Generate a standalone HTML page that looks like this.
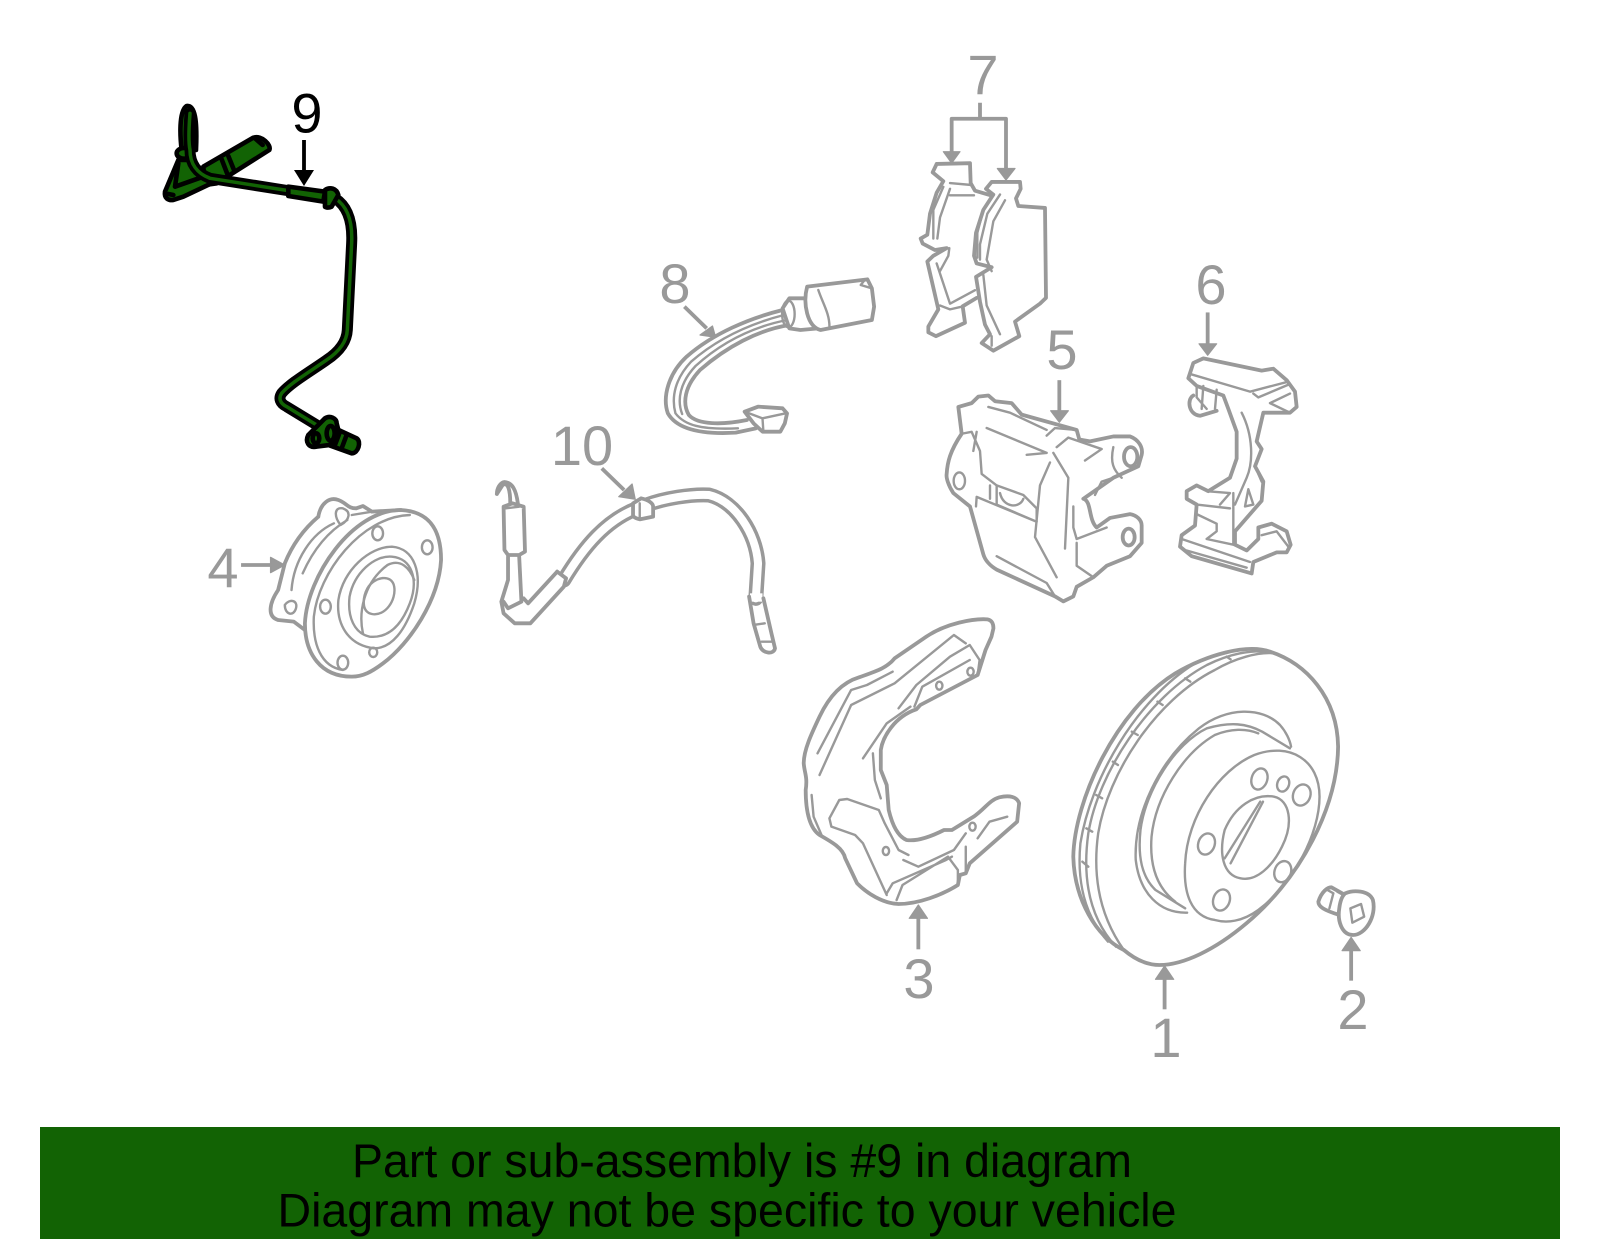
<!DOCTYPE html>
<html><head><meta charset="utf-8"><title>Diagram</title>
<style>
html,body{margin:0;padding:0;background:#fff;width:1600px;height:1249px;overflow:hidden}
svg{display:block}
text{font-family:"Liberation Sans",Arial,sans-serif}
.n{font-size:56px;fill:#999;text-anchor:middle}
.g path,.g ellipse{fill:none;stroke:#999;stroke-width:3.8;vector-effect:non-scaling-stroke;stroke-linejoin:round;stroke-linecap:round}
.g .t{stroke-width:2.4}
.g .a{fill:#999;stroke:#999;stroke-width:1.2}
.g .s{stroke-linecap:butt;stroke-width:3.8}
.g .f{fill:#fff}
.k path,.k ellipse{stroke:#000;stroke-width:4.6;fill:#126304;vector-effect:non-scaling-stroke;stroke-linejoin:round;stroke-linecap:round}
.k .w{fill:none}
</style></head><body>
<svg width="1600" height="1249" viewBox="0 0 1600 1249" xmlns="http://www.w3.org/2000/svg">

<!-- Part 9 -->
<g class="k" transform="translate(140,70) scale(.3333)">
<path d="M190,290L340,203C365,195 395,225 388,240L285,305L230,340L195,345Z"/>
<path d="M115,270L75,365C72,385 85,392 100,390L130,380L225,335L180,310L150,270Z"/>
<path class="w" d="M105,350L190,320M100,375L85,372M115,280L105,350M245,268L262,312M265,258L282,300M345,205L368,225"/>
<path d="M125,240C118,180 120,120 140,108C165,105 172,150 168,240Z"/>
<ellipse cx="132" cy="250" rx="22" ry="16"/>
<path class="w" style="stroke-width:11" d="M150,130C146,180 146,220 150,240C150,280 170,310 210,325L445,362"/>
<path class="w" style="stroke:#126304;stroke-width:3.5" d="M150,130C146,180 146,220 150,240C150,280 170,310 210,325L445,362"/>
<path d="M445,350L555,365L550,395L445,378Z"/>
<path class="w" style="stroke-width:11" d="M585,385C625,410 638,460 635,520L622,780C620,820 590,850 560,870C510,905 450,940 425,970C415,985 420,1000 440,1010L530,1065"/>
<path class="w" style="stroke:#126304;stroke-width:3.5" d="M585,385C625,410 638,460 635,520L622,780C620,820 590,850 560,870C510,905 450,940 425,970C415,985 420,1000 440,1010L530,1065"/>
<path d="M555,360C570,350 590,355 595,375L575,410C565,415 555,412 555,410Z"/>
<path d="M585,1075L650,1105C665,1115 655,1150 635,1150L565,1125Z"/>
<path class="w" d="M600,1085L585,1125M620,1095L605,1135"/>
<path d="M505,1095L555,1045C570,1035 590,1045 590,1060L595,1080L570,1125L530,1130C505,1135 495,1115 505,1095Z"/>
<ellipse cx="528" cy="1105" rx="10" ry="15"/>
<ellipse cx="572" cy="1090" rx="12" ry="22"/>
</g>
<text x="307" y="132.5" font-size="56" text-anchor="middle" fill="#000">9</text>
<path d="M304,140V175" stroke="#000" stroke-width="3.8" fill="none"/>
<path d="M294,170H314L304,186Z" fill="#000"/>

<!-- Part 7, 5, 6 -->
<g class="g" transform="translate(900,30) scale(.33333,.3827)">
<path class="s" d="M240,190V232M155,320V232H318V365"/>
<path class="a" d="M130,318H180L155,348ZM292,362H345L318,392Z"/>
<path d="M110,350L210,348L212,400L225,420L272,432M110,350L98,372L130,395L110,425L90,480L82,535L62,545L68,558L105,575L140,570L100,590L82,605L115,730L85,775L85,790L108,800L195,765L188,722L230,700"/>
<path class="t" d="M130,410L100,470L100,545M150,415L120,490L112,545M150,400L215,405M120,720L150,730L190,722M110,610L150,715L225,680M120,630L145,590L148,570M150,432L222,432"/>
<path class="f" d="M258,415L275,397L360,397L362,415L348,440L355,460L435,465L438,700L420,715L345,762L358,800L280,838L245,818L270,795L255,770L240,710L228,645L275,620L230,610L222,590L228,530L250,470L280,430Z"/>
<path class="t" d="M300,430L262,480L240,560L240,600M315,445L280,500L260,600L275,630M250,640L260,720L300,795M275,800L275,825M250,470L232,530L232,595"/>
<path class="s" d="M478,915V995"/><path class="a" d="M452,995H505L478,1025Z"/>
<path d="M175,985L215,975L235,958L265,955L285,970L335,975L365,1005L530,1045L538,1070L570,1075L640,1062L690,1062C715,1070 730,1090 725,1110L715,1140L640,1170L550,1225C575,1230 565,1280 590,1300L630,1275L690,1265C710,1268 725,1280 725,1295V1340L690,1375L620,1400L580,1430L530,1455L520,1480L490,1493L465,1480L290,1410C270,1400 255,1385 250,1370L210,1245L160,1210C145,1190 138,1170 140,1160C142,1130 150,1100 185,1055Z"/>
<ellipse class="t" cx="178" cy="1178" rx="17" ry="22"/>
<ellipse cx="692" cy="1115" rx="20" ry="25"/>
<ellipse cx="686" cy="1325" rx="18" ry="22"/>
<path class="t" d="M185,1055L215,1050L240,1100L245,1160L290,1190L370,1215L410,1250L410,1285L230,1220L228,1245M260,1040L440,1105L380,1110L440,1105M265,985L330,1000L440,1045M440,1060L465,1040L530,1045M470,1090L505,1065L605,1095L555,1125M460,1105L505,1170L495,1355M450,1130L420,1190L405,1325L470,1430M290,1190L290,1240L410,1285M300,1210C310,1250 360,1250 370,1225M585,1215L605,1180L640,1170M520,1245L520,1300L530,1330L620,1300M530,1340L530,1400L580,1430M290,1375L440,1445L465,1480M640,1090C630,1130 640,1150 665,1170M230,1050L220,1100M270,1190V1225"/>

<path class="s" d="M923,738V820"/><path class="a" d="M897,820H950L923,850Z"/>
<path d="M880,870L910,858L1085,890L1120,885L1160,915L1185,945L1190,985L1170,1000L1090,1000L1070,1075L1085,1095L1065,1140L1090,1180L1085,1230L1005,1310V1345L1040,1360L1075,1330L1075,1300L1115,1290L1160,1310L1172,1345L1160,1365L1130,1365L1060,1390L1055,1420L875,1375L840,1350L845,1320L885,1295L890,1240L860,1225L860,1205L890,1190L925,1205L990,1170L1010,1120L1010,1050L985,990L970,955L890,930L865,910Z"/>
<path d="M880,955C860,965 865,1005 900,1008L950,995"/>
<path class="t" d="M875,900L1050,945L1160,920M890,930L890,960L920,990M910,930L905,990M950,940L945,990M1060,950L1075,960L1170,925M1110,975L1170,950M1170,1000L1110,975M1025,1000C1060,1060 1060,1130 1040,1170L1005,1240M920,1205L990,1210L960,1240M890,1240L990,1250M890,1265L950,1290V1310L920,1330L1000,1345V1210M845,1330L1050,1390M860,1360L1040,1405M1075,1160L1085,1180M1045,1200L1060,1240L1035,1245ZM1085,1320L1130,1310L1165,1350"/>
</g>
<text class="n" x="983" y="94">7</text>
<text class="n" x="1062" y="369">5</text>
<text class="n" x="1211" y="304">6</text>

<!-- Part 3, 1, 2 -->
<g class="g" transform="translate(780,600) scale(.39526,.33333)">
<path class="s" d="M350,1048V955"/><path class="a" d="M327,955H373L350,915Z"/>
<path class="s" d="M973,1228V1138"/><path class="a" d="M950,1138H996L973,1098Z"/>
<path class="s" d="M1445,1142V1052"/><path class="a" d="M1422,1052H1468L1445,1012Z"/>

<path d="M525,58C490,55 420,70 370,110L290,175C270,205 240,215 200,232C150,250 120,300 100,350C80,400 60,450 60,490C62,520 70,530 65,570C65,620 70,680 100,705C130,725 160,745 165,775L195,850C220,880 260,910 300,912C350,912 410,885 450,855L455,825L470,820L480,790L600,665L605,610C600,590 580,585 555,592C530,600 520,625 490,650L435,690L415,690C390,705 350,725 320,720C300,710 285,680 275,630L270,555L255,510L255,450C260,410 290,350 345,328L355,315L500,225L520,150L535,110L540,85C540,70 535,60 525,58Z"/>
<path class="t" d="M95,460L180,270L220,255L285,215M100,525L180,315L290,250L440,105L470,130M300,325L345,255L430,170L480,135L505,180L500,225M340,320L360,260L480,180M210,475L270,370L330,320M235,460L240,540L255,595M80,585L85,650L105,705M150,600L125,655L130,680L190,705L210,730L270,885M150,600L170,597L250,630L265,670L300,750L325,765M295,900L310,855L425,770L450,810L450,855M270,880L285,850L420,780L435,770M312,780L350,800L440,750L470,700M470,740V820M500,715L530,665L575,650"/>
<ellipse class="t" cx="403" cy="257" rx="8" ry="12"/><ellipse class="t" cx="482" cy="215" rx="8" ry="12"/><ellipse class="t" cx="268" cy="753" rx="8" ry="12"/><ellipse class="t" cx="487" cy="680" rx="8" ry="12"/>

<path d="M870,1050C800,1010 745,900 742,770C745,600 850,330 1000,220C1080,165 1180,130 1240,155C1330,190 1410,290 1412,440C1410,620 1320,830 1180,970C1100,1050 1020,1095 960,1095C925,1095 895,1075 870,1050Z"/>
<path class="t" d="M870,1050C810,950 790,830 805,700C830,520 950,300 1100,210C1150,175 1210,155 1250,160"/>
<path class="t" d="M850,1040C780,950 765,830 780,700C805,520 930,290 1080,195C1140,160 1190,150 1240,155"/>
<path class="t" d="M830,1025C765,940 752,830 760,730C785,540 900,300 1050,190C1110,155 1170,140 1230,150"/>
<path class="t" d="M765,785L780,800M775,685L790,695M800,585L815,595M842,485L855,495M890,395L905,405M955,305L968,315M1025,235L1038,245M1130,170L1140,178"/>
<path class="t" d="M1100,960C1040,950 1020,880 1025,790C1030,650 1110,510 1200,465C1290,425 1365,480 1365,590C1365,700 1300,850 1210,930C1170,965 1130,970 1100,960Z"/>
<path class="t" d="M1030,938C960,940 910,880 900,780C895,640 960,480 1060,385C1130,320 1220,320 1265,375C1280,395 1290,420 1293,440"/>
<path class="t" d="M1025,925L950,870C915,830 905,770 912,690C925,570 1000,430 1080,385C1140,365 1180,370 1220,395L1290,445"/>
<path class="t" d="M1000,905C950,860 935,790 940,710C950,590 1020,460 1100,405C1140,385 1180,385 1210,400"/>
<path class="t" d="M1165,835C1120,825 1110,760 1125,690C1150,620 1200,580 1250,590C1290,600 1300,670 1270,740C1245,800 1205,845 1165,835Z"/>
<path class="t" d="M1215,605L1125,775M1222,605L1140,790"/>
<ellipse class="t" cx="1213" cy="537" rx="20" ry="32" transform="rotate(12 1213 537)"/>
<ellipse class="t" cx="1273" cy="552" rx="15" ry="23" transform="rotate(12 1273 552)"/>
<ellipse class="t" cx="1320" cy="585" rx="22" ry="32" transform="rotate(12 1320 585)"/>
<ellipse class="t" cx="1079" cy="732" rx="21" ry="32" transform="rotate(12 1079 732)"/>
<ellipse class="t" cx="1272" cy="815" rx="21" ry="32" transform="rotate(12 1272 815)"/>
<ellipse class="t" cx="1117" cy="900" rx="21" ry="32" transform="rotate(12 1117 900)"/>

<path d="M1430,885L1395,862C1385,862 1370,875 1362,905C1362,920 1375,930 1415,945"/>
<path class="t" d="M1385,870L1400,880L1390,925M1410,875L1425,885"/>
<path class="f" d="M1430,880C1450,870 1490,870 1500,900C1510,950 1480,1005 1450,1005C1420,1005 1410,960 1415,925C1417,905 1422,888 1430,880Z"/>
<path class="t" d="M1443,925L1470,912L1478,950L1448,968Z"/>
</g>
<text class="n" x="919" y="998">3</text>
<text class="n" x="1166" y="1057">1</text>
<text class="n" x="1353" y="1029">2</text>

<!-- Part 4, 10, 8 -->
<g class="g" transform="translate(200,240) scale(.44643,.33333)">
<path class="s" d="M92,975H160"/><path class="a" d="M158,952V998L190,975Z"/>
<path d="M265,830C270,790 290,770 310,780C330,790 330,805 350,805L365,798L385,815L450,810M265,830C230,870 205,920 190,970L175,1050C155,1090 150,1130 175,1140L210,1145L235,1170"/>
<path class="t" d="M205,1050C210,960 250,880 300,850M230,1000C250,940 280,880 330,840M315,855C300,830 300,800 320,805C340,815 335,840 315,855M190,1095C200,1075 220,1080 215,1105C210,1130 190,1125 190,1095M340,825L385,815"/>
<path d="M340,1310C270,1310 235,1240 235,1150C240,1010 340,810 450,810C520,815 540,880 540,960C535,1080 470,1210 410,1270C385,1295 365,1310 340,1310Z"/>
<path class="t" d="M320,1290C270,1280 252,1210 255,1130C265,1000 360,830 470,825"/>
<path class="t" d="M390,1225C330,1215 305,1150 310,1080C320,990 380,920 430,920C480,925 500,1000 480,1090C460,1170 430,1225 390,1225Z"/>
<path class="t" d="M380,1190C345,1180 330,1130 335,1070C345,1000 390,945 430,950C475,955 490,1020 470,1090C450,1160 420,1195 380,1190Z"/>
<path class="t" d="M365,1180C355,1120 365,1030 420,975C450,955 470,985 480,1020"/>
<path class="t" d="M385,1122C360,1115 365,1070 375,1045C390,1010 430,1000 435,1040C440,1080 415,1130 385,1122Z"/>
<ellipse class="t" cx="398" cy="880" rx="12" ry="21"/><ellipse class="t" cx="509" cy="922" rx="12" ry="21"/><ellipse class="t" cx="281" cy="1100" rx="12" ry="21"/><ellipse class="t" cx="320" cy="1268" rx="12" ry="21"/><ellipse class="t" cx="388" cy="1237" rx="9" ry="14"/>

<path class="s" d="M900,685L950,750"/><path class="a" d="M975,778L938,770L968,732Z"/>
<path style="stroke-width:15" d="M815,1020C860,920 910,840 980,805L1000,795C1040,775 1100,762 1140,765C1200,785 1245,880 1250,970L1245,1075"/>
<path style="stroke:#fff;stroke-width:8" d="M815,1020C860,920 910,840 980,805L1000,795C1040,775 1100,762 1140,765C1200,785 1245,880 1250,970L1245,1075"/>
<path class="f" style="stroke:#fff;stroke-width:0" d="M1232,1060H1260V1085H1232Z"/>
<path d="M1230,1070L1240,1150L1255,1220C1260,1240 1285,1245 1288,1225L1280,1180L1262,1075"/>
<path class="t" d="M1240,1155L1265,1150M1258,1205L1282,1205"/>
<path class="f" d="M970,790L988,775C1005,780 1015,790 1015,800V830L985,838C975,835 970,830 970,825Z"/>
<path class="t" d="M985,790V835"/>
<path class="f" d="M800,995L820,1015L815,1040L740,1150L705,1150L680,1120L675,1085L690,1020V950"/>
<path d="M800,995L735,1090L725,1075M715,950L720,1085L690,1105L680,1085"/>
<path class="f" d="M680,800L700,790L725,800L728,935L715,945H690L682,930Z"/>
<path d="M695,790C695,750 690,725 678,735L665,762M712,790C708,750 700,728 682,726C672,728 665,745 665,762"/>
<path class="t" d="M685,805L715,800"/>

<path class="s" d="M1085,200L1135,265"/><path class="a" d="M1155,292L1120,285L1148,258Z"/>
<path d="M1305,210C1230,235 1150,280 1090,350C1050,400 1035,470 1048,520C1065,560 1110,585 1200,578L1245,565"/>
<path d="M1320,255C1250,270 1180,320 1120,390C1085,440 1080,490 1095,525C1115,555 1170,555 1225,540"/>
<path class="t" d="M1308,225C1235,250 1160,295 1100,365C1065,415 1055,470 1065,520C1085,555 1120,570 1205,565M1315,240C1240,260 1170,305 1110,378C1075,428 1068,480 1080,522"/>
<path class="f" d="M1220,515L1250,500L1305,505L1315,520L1310,550L1300,575L1260,575L1240,550Z"/>
<path class="t" d="M1220,515L1260,535L1262,575M1260,535L1312,520"/>
<path class="f" d="M1360,175L1320,175L1305,205L1320,265L1345,270L1385,265"/>
<ellipse class="t" cx="1318" cy="222" rx="14" ry="40"/>
<path class="f" d="M1360,140L1495,118L1505,145L1510,200L1505,240L1390,270C1360,260 1350,190 1360,140Z"/>
<path class="t" d="M1385,150C1395,190 1410,220 1410,260M1490,118L1480,135L1505,145"/>
</g>
<text class="n" x="223" y="587">4</text>
<text class="n" x="582" y="465">10</text>
<text class="n" x="675" y="303">8</text>

<!-- Banner -->
<rect x="40" y="1127" width="1520" height="112" fill="#126304"/>
<text x="352" y="1177" font-size="47" fill="#000" textLength="780" lengthAdjust="spacingAndGlyphs">Part or sub-assembly is #9 in diagram</text>
<text x="277.5" y="1226.5" font-size="47" fill="#000" textLength="899" lengthAdjust="spacingAndGlyphs">Diagram may not be specific to your vehicle</text>
</svg>
</body></html>
